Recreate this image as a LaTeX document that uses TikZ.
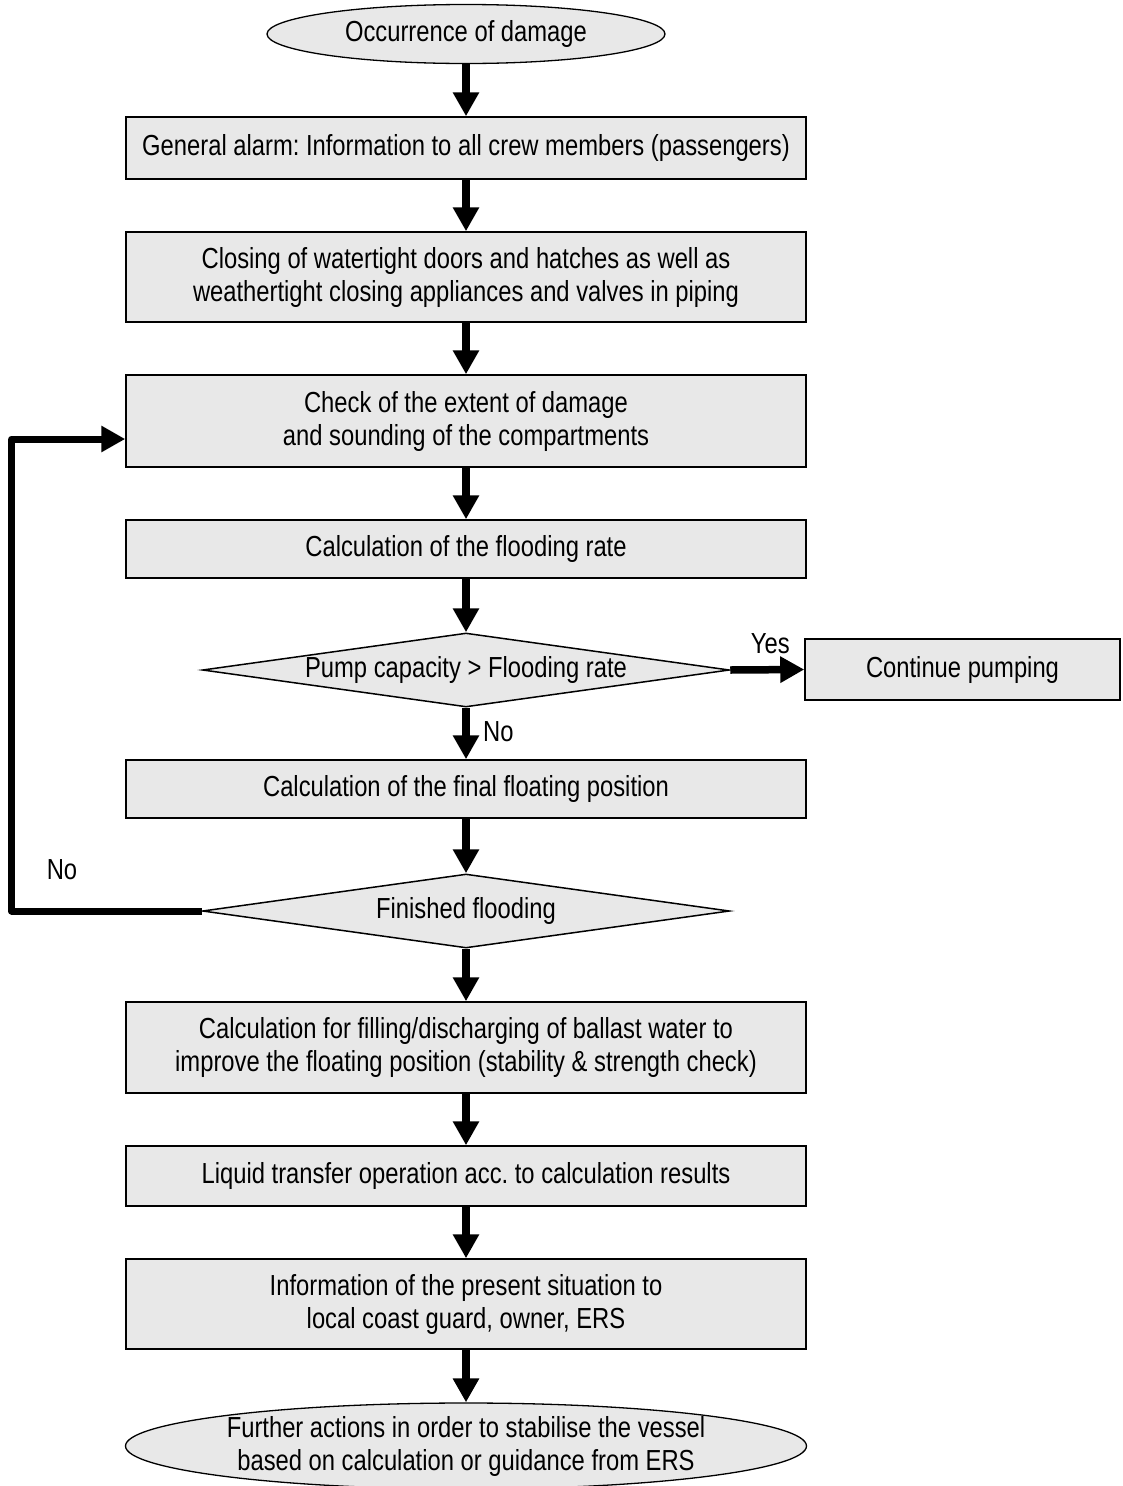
\documentclass[tikz,border=0pt]{standalone}
\usepackage{fontspec}
\setmainfont[FakeStretch=0.82]{Liberation Sans}
\usetikzlibrary{shapes.geometric, arrows.meta}
\frenchspacing

\begin{document}
\begin{tikzpicture}[
    x=1pt, y=-1pt,
    font=\fontsize{29}{33}\selectfont,
    stepbox/.style={draw, line width=1.5pt, fill=black!9,
                    minimum width=680pt, align=center, inner sep=0pt},
    term/.style={ellipse, draw, line width=1.3pt, fill=black!9,
                 align=center, inner sep=0pt},
    query/.style={diamond, draw, line width=1.5pt, fill=black!9,
                  shape aspect=7, inner sep=0pt,
                  minimum width=527pt, minimum height=74pt},
    flow/.style={line width=7.5pt, -{Triangle[length=24pt, width=25pt]}}
]

% One unit is one pixel of the reference, y runs downwards.
\useasboundingbox (0,0) rectangle (1122,1486);

% ---------- main column ----------
\node[term, minimum width=398pt, minimum height=59pt] (occ) at (466,34)
      {Occurrence of damage};
\node[stepbox, minimum height=62pt] (alarm) at (466,148)
      {General alarm: Information to all crew members (passengers)};
\node[stepbox, minimum height=90pt] (close) at (466,277)
      {Closing of watertight doors and hatches as well as\\
       weathertight closing appliances and valves in piping};
\node[stepbox, minimum height=92pt] (check) at (466,421)
      {Check of the extent of damage\\ and sounding of the compartments};
\node[stepbox, minimum height=58pt] (rate) at (466,549)
      {Calculation of the flooding rate};
\node[query] (pump) at (466,670) {Pump capacity > Flooding rate};
\node[stepbox, minimum width=315pt, minimum height=61pt] (cont) at (962.5,669.5)
      {Continue pumping};
\node[stepbox, minimum height=58pt] (final) at (466,789)
      {Calculation of the final floating position};
\node[query] (fin) at (466,911) {Finished flooding};
\node[stepbox, minimum height=91pt] (ballast) at (466,1047.5)
      {Calculation for filling/discharging of ballast water to\\
       improve the floating position (stability \& strength check)};
\node[stepbox, minimum height=60pt] (liquid) at (466,1176)
      {Liquid transfer operation acc. to calculation results};
\node[stepbox, minimum height=90pt] (inform) at (466,1304)
      {Information of the present situation to\\
       local coast guard, owner, ERS};
\node[term, minimum width=681pt, minimum height=86pt] (further) at (466,1446)
      {Further actions in order to stabilise the vessel\\
       based on calculation or guidance from ERS};

% ---------- arrows ----------
\foreach \a/\b in {occ/alarm, alarm/close, close/check, check/rate,
                   rate/pump, final/fin, fin/ballast, ballast/liquid,
                   liquid/inform, inform/further}
  \draw[flow] (\a.south) -- (\b.north);

\draw[flow] (pump.east) -- node[above=9pt, xshift=3pt] {Yes} (cont.west);
\draw[flow] (pump.south) -- node[right=10pt, yshift=2pt] {No} (final.north);

% ---------- loop back ----------
\draw[flow, line width=7pt, line join=round] (fin.west) -- ++(-190,0)
      |- ([yshift=-18pt]check.west);
\node (nolbl) at (62,870) {No};

\end{tikzpicture}
\end{document}
